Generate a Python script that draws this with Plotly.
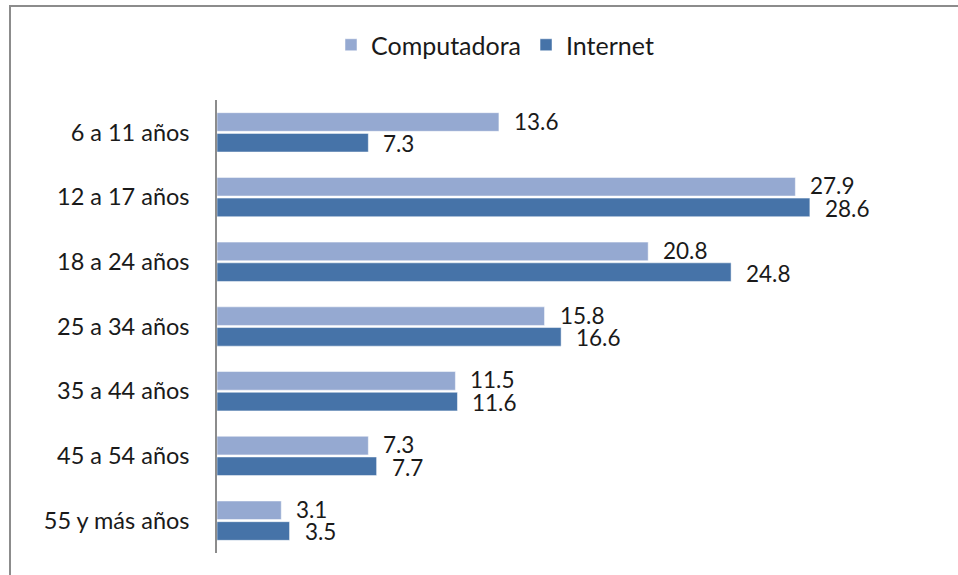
import plotly.graph_objects as go

categorias = ["6 a 11 años", "12 a 17 años", "18 a 24 años", "25 a 34 años",
              "35 a 44 años", "45 a 54 años", "55 y más años"]
computadora = [13.6, 27.9, 20.8, 15.8, 11.5, 7.3, 3.1]
internet = [7.3, 28.6, 24.8, 16.6, 11.6, 7.7, 3.5]

FONT = "Lato"
TXT = "#1a1a1a"
C_COMP = "#95A9D1"
C_INT = "#4673A8"

W, H = 958, 575
ML, MR, MT, MB = 217, 28, 100, 22
PW, PH = W - ML - MR, H - MT - MB

def px_x(x):
    return (x - ML) / PW

def px_y(y):
    return 1 + (MT - y) / PH

fig = go.Figure()
fig.add_trace(go.Bar(name="Computadora", y=categorias, x=computadora, orientation="h",
                     marker=dict(color=C_COMP, line=dict(color="#ffffff", width=0.5))))
fig.add_trace(go.Bar(name="Internet", y=categorias, x=internet, orientation="h",
                     marker=dict(color=C_INT, line=dict(color="#ffffff", width=0.5))))

n = len(categorias)
annotations = []
for i, c in enumerate(categorias):
    for v, off in ((computadora[i], -0.175), (internet[i], 0.175)):
        annotations.append(dict(x=v, y=i + off, xref="x", yref="y", text=f"{v:.1f}",
                                showarrow=False, xanchor="left", yanchor="middle", xshift=14,
                                borderpad=0,
                                font=dict(family=FONT, size=22.5, color=TXT)))

shapes = [
    dict(type="line", xref="paper", yref="paper", x0=px_x(10), x1=px_x(10),
         y0=px_y(6), y1=px_y(580), line=dict(color="#8c8c8c", width=2)),
    dict(type="line", xref="paper", yref="paper", x0=px_x(9), x1=px_x(965),
         y0=px_y(6), y1=px_y(6), line=dict(color="#8c8c8c", width=2)),
]

fig.update_layout(
    width=W, height=H,
    margin=dict(l=ML, r=MR, t=MT, b=MB, pad=0),
    paper_bgcolor="white", plot_bgcolor="white",
    barmode="group", bargap=0.36, bargroupgap=0.1,
    font=dict(family=FONT, size=23.5, color=TXT),
    showlegend=True,
    legend=dict(orientation="h", x=px_x(495), xanchor="center", y=px_y(45), yanchor="middle",
                font=dict(family=FONT, size=25, color=TXT), itemwidth=30,
                traceorder="normal", itemclick=False),
    xaxis=dict(range=[0, PW / 20.73], showgrid=False, zeroline=False, showline=False,
               showticklabels=False, ticks=""),
    yaxis=dict(type="category", range=[n - 0.5, -0.5], showgrid=False, zeroline=False,
               showline=True, linecolor="#8c8c8c", linewidth=1.5, ticks="",
               ticklabelstandoff=21, tickfont=dict(family=FONT, size=23.5, color=TXT)),
    annotations=annotations,
    shapes=shapes,
)

fig.write_html("out.html", config={"displayModeBar": False},
               post_script="document.body.style.margin='0';")
